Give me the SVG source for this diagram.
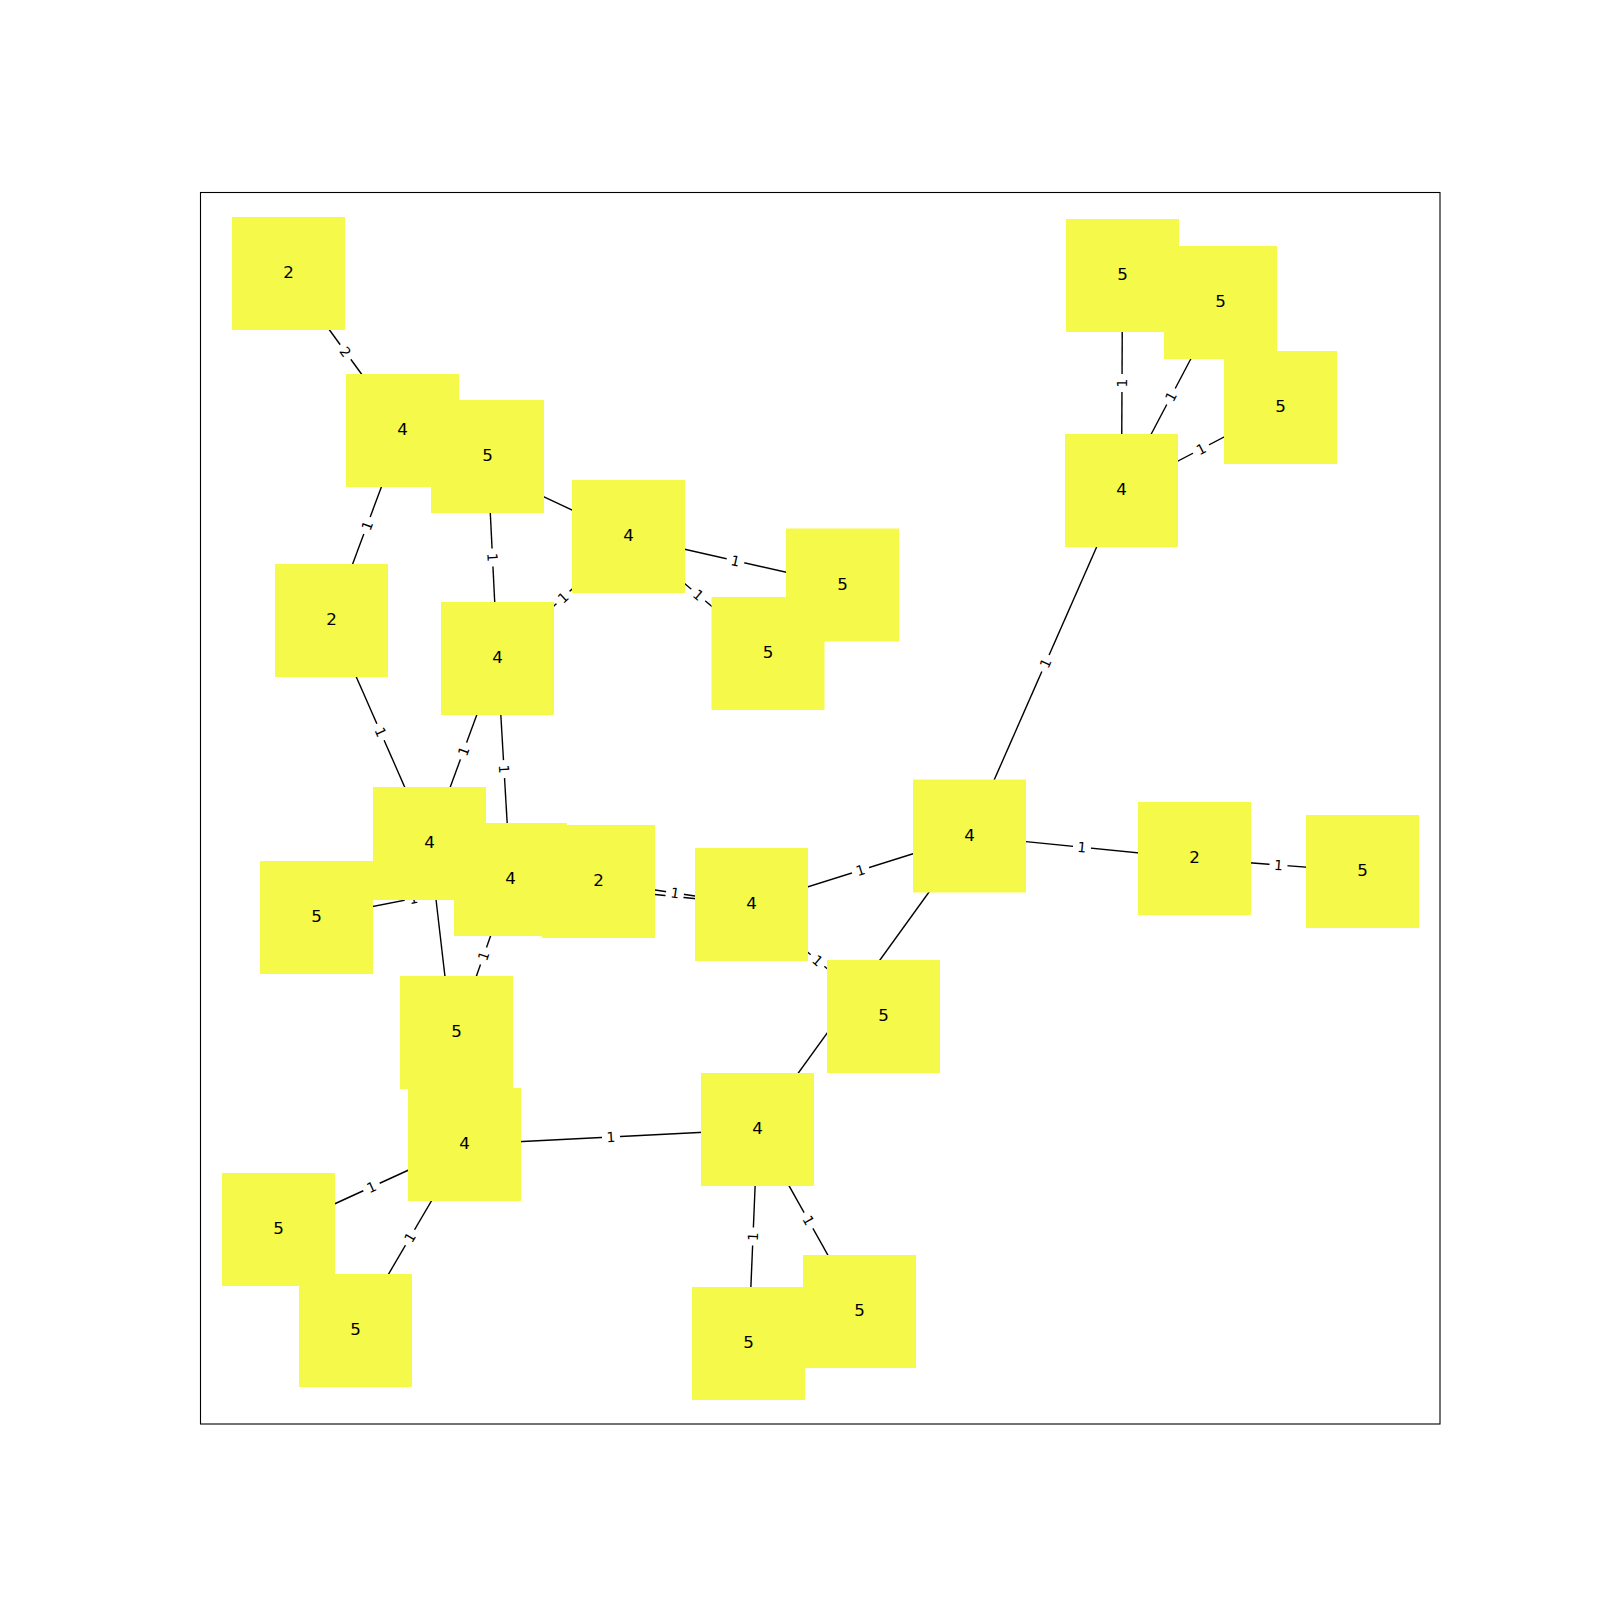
<svg xmlns="http://www.w3.org/2000/svg" width="1600" height="1600" viewBox="0 0 1600 1600">
<style>
.bg{fill:#ffffff}
.frame{fill:none;stroke:#000;stroke-width:1.1}
.edges line{stroke:#000;stroke-width:1.4}
.el rect{fill:#fff;stroke:none}
.el text{font-family:"DejaVu Sans",sans-serif;font-size:13.9px;text-anchor:middle;dominant-baseline:central;fill:#000}
.node rect{fill:#f4f94a}
.node text{font-family:"DejaVu Sans",sans-serif;font-size:16.7px;text-anchor:middle;dominant-baseline:central;fill:#000}
</style>
<rect class="bg" x="0" y="0" width="1600" height="1600"/>
<rect class="frame" x="200.5" y="192.5" width="1239.5" height="1231.5"/>
<g id="connectors">
<g class="edges">
<line x1="288.5" y1="273.5" x2="402.5" y2="430.5"/>
<line x1="402.5" y1="430.5" x2="331.5" y2="620.5"/>
<line x1="402.5" y1="430.5" x2="628.5" y2="536.5"/>
<line x1="487.5" y1="456.5" x2="497.5" y2="658.5"/>
<line x1="628.5" y1="536.5" x2="497.5" y2="658.5"/>
<line x1="628.5" y1="536.5" x2="842.5" y2="585"/>
<line x1="628.5" y1="536.5" x2="768" y2="653.5"/>
<line x1="331.5" y1="620.5" x2="429.5" y2="843.5"/>
<line x1="497.5" y1="658.5" x2="429.5" y2="843.5"/>
<line x1="497.5" y1="658.5" x2="510.5" y2="879.5"/>
<line x1="316.5" y1="917.5" x2="510.5" y2="879.5"/>
<line x1="429.5" y1="843.5" x2="464.5" y2="1144.5"/>
<line x1="510.5" y1="879.5" x2="456.5" y2="1032.5"/>
<line x1="510.5" y1="879.5" x2="751.5" y2="904.5"/>
<line x1="598.5" y1="881.5" x2="751.5" y2="904.5"/>
<line x1="751.5" y1="904.5" x2="969.5" y2="836"/>
<line x1="751.5" y1="904.5" x2="883.5" y2="1016.5"/>
<line x1="969.5" y1="836" x2="757.5" y2="1129.5"/>
<line x1="969.5" y1="836" x2="1121.5" y2="490.5"/>
<line x1="969.5" y1="836" x2="1194.5" y2="858.5"/>
<line x1="1194.5" y1="858.5" x2="1362.5" y2="871.5"/>
<line x1="1121.5" y1="490.5" x2="1122.5" y2="275.5"/>
<line x1="1121.5" y1="490.5" x2="1220.5" y2="302.5"/>
<line x1="1121.5" y1="490.5" x2="1280.5" y2="407.5"/>
<line x1="757.5" y1="1129.5" x2="464.5" y2="1144.5"/>
<line x1="464.5" y1="1144.5" x2="278.5" y2="1229.5"/>
<line x1="464.5" y1="1144.5" x2="355.5" y2="1330.5"/>
<line x1="757.5" y1="1129.5" x2="748.5" y2="1343.5"/>
<line x1="757.5" y1="1129.5" x2="859.5" y2="1311.5"/>
</g>
<g class="el">
<g transform="translate(345.5,352) rotate(54)"><rect x="-9" y="-11" width="18" height="22" rx="4"/><text>2</text></g>
<g transform="translate(367,525.5) rotate(-69.5)"><rect x="-9" y="-11" width="18" height="22" rx="4"/><text>1</text></g>
<g transform="translate(515.5,483.5) rotate(25.1)"><rect x="-9" y="-11" width="18" height="22" rx="4"/><text>1</text></g>
<g transform="translate(492.5,557.5) rotate(87.2)"><rect x="-9" y="-11" width="18" height="22" rx="4"/><text>1</text></g>
<g transform="translate(563,597.5) rotate(-43)"><rect x="-9" y="-11" width="18" height="22" rx="4"/><text>1</text></g>
<g transform="translate(735.5,560.75) rotate(12.8)"><rect x="-9" y="-11" width="18" height="22" rx="4"/><text>1</text></g>
<g transform="translate(698.25,595) rotate(40)"><rect x="-9" y="-11" width="18" height="22" rx="4"/><text>1</text></g>
<g transform="translate(380.5,732) rotate(66.3)"><rect x="-9" y="-11" width="18" height="22" rx="4"/><text>1</text></g>
<g transform="translate(463.5,751) rotate(-69.8)"><rect x="-9" y="-11" width="18" height="22" rx="4"/><text>1</text></g>
<g transform="translate(504,769) rotate(86.6)"><rect x="-9" y="-11" width="18" height="22" rx="4"/><text>1</text></g>
<g transform="translate(413.5,898.5) rotate(-11.1)"><rect x="-9" y="-11" width="18" height="22" rx="4"/><text>1</text></g>
<g transform="translate(447,994) rotate(83.4)"><rect x="-9" y="-11" width="18" height="22" rx="4"/><text>1</text></g>
<g transform="translate(483.5,956) rotate(-70.6)"><rect x="-9" y="-11" width="18" height="22" rx="4"/><text>1</text></g>
<g transform="translate(631,892) rotate(5.9)"><rect x="-9" y="-11" width="18" height="22" rx="4"/><text>1</text></g>
<g transform="translate(675,893) rotate(8.5)"><rect x="-9" y="-11" width="18" height="22" rx="4"/><text>1</text></g>
<g transform="translate(860.5,870.25) rotate(-17.4)"><rect x="-9" y="-11" width="18" height="22" rx="4"/><text>1</text></g>
<g transform="translate(817.5,960.5) rotate(40.3)"><rect x="-9" y="-11" width="18" height="22" rx="4"/><text>1</text></g>
<g transform="translate(863.5,982.75) rotate(-54.2)"><rect x="-9" y="-11" width="18" height="22" rx="4"/><text>1</text></g>
<g transform="translate(1045.5,663.25) rotate(-66.3)"><rect x="-9" y="-11" width="18" height="22" rx="4"/><text>1</text></g>
<g transform="translate(1082,847.25) rotate(5.7)"><rect x="-9" y="-11" width="18" height="22" rx="4"/><text>1</text></g>
<g transform="translate(1278.5,865) rotate(4.4)"><rect x="-9" y="-11" width="18" height="22" rx="4"/><text>1</text></g>
<g transform="translate(1122,383) rotate(-89.7)"><rect x="-9" y="-11" width="18" height="22" rx="4"/><text>1</text></g>
<g transform="translate(1171,396.5) rotate(-62.2)"><rect x="-9" y="-11" width="18" height="22" rx="4"/><text>1</text></g>
<g transform="translate(1201,449) rotate(-27.6)"><rect x="-9" y="-11" width="18" height="22" rx="4"/><text>1</text></g>
<g transform="translate(611,1137) rotate(-2.9)"><rect x="-9" y="-11" width="18" height="22" rx="4"/><text>1</text></g>
<g transform="translate(371.5,1187) rotate(-24.6)"><rect x="-9" y="-11" width="18" height="22" rx="4"/><text>1</text></g>
<g transform="translate(410,1237.5) rotate(-59.6)"><rect x="-9" y="-11" width="18" height="22" rx="4"/><text>1</text></g>
<g transform="translate(753,1236.5) rotate(-87.6)"><rect x="-9" y="-11" width="18" height="22" rx="4"/><text>1</text></g>
<g transform="translate(808.5,1220.5) rotate(60.7)"><rect x="-9" y="-11" width="18" height="22" rx="4"/><text>1</text></g>
</g>
</g>
<g id="nA" class="node"><rect x="232" y="217" width="113" height="113"/><text x="288.5" y="272">2</text></g>
<g id="nB" class="node"><rect x="346" y="374" width="113" height="113"/><text x="402.5" y="429">4</text></g>
<g id="nC" class="node"><rect x="431" y="400" width="113" height="113"/><text x="487.5" y="455">5</text></g>
<g id="nD" class="node"><rect x="572" y="480" width="113" height="113"/><text x="628.5" y="535">4</text></g>
<g id="nE" class="node"><rect x="275" y="564" width="113" height="113"/><text x="331.5" y="619">2</text></g>
<g id="nF" class="node"><rect x="441" y="602" width="113" height="113"/><text x="497.5" y="657">4</text></g>
<g id="nG" class="node"><rect x="786" y="528.5" width="113" height="113"/><text x="842.5" y="583.5">5</text></g>
<g id="nH" class="node"><rect x="711.5" y="597" width="113" height="113"/><text x="768" y="652">5</text></g>
<g id="nI" class="node"><rect x="1065" y="434" width="113" height="113"/><text x="1121.5" y="489">4</text></g>
<g id="nJ" class="node"><rect x="1066" y="219" width="113" height="113"/><text x="1122.5" y="274">5</text></g>
<g id="nK" class="node"><rect x="1164" y="246" width="113" height="113"/><text x="1220.5" y="301">5</text></g>
<g id="nL" class="node"><rect x="1224" y="351" width="113" height="113"/><text x="1280.5" y="406">5</text></g>
<g id="nM" class="node"><rect x="913" y="779.5" width="113" height="113"/><text x="969.5" y="834.5">4</text></g>
<g id="nN" class="node"><rect x="1138" y="802" width="113" height="113"/><text x="1194.5" y="857">2</text></g>
<g id="nO" class="node"><rect x="1306" y="815" width="113" height="113"/><text x="1362.5" y="870">5</text></g>
<g id="nP" class="node"><rect x="695" y="848" width="113" height="113"/><text x="751.5" y="903">4</text></g>
<g id="nQ" class="node"><rect x="827" y="960" width="113" height="113"/><text x="883.5" y="1015">5</text></g>
<g id="nR" class="node"><rect x="701" y="1073" width="113" height="113"/><text x="757.5" y="1128">4</text></g>
<g id="nS" class="node"><rect x="803" y="1255" width="113" height="113"/><text x="859.5" y="1310">5</text></g>
<g id="nT" class="node"><rect x="692" y="1287" width="113" height="113"/><text x="748.5" y="1342">5</text></g>
<g id="nU" class="node"><rect x="408" y="1088" width="113" height="113"/><text x="464.5" y="1143">4</text></g>
<g id="nV" class="node"><rect x="222" y="1173" width="113" height="113"/><text x="278.5" y="1228">5</text></g>
<g id="nW" class="node"><rect x="299" y="1274" width="113" height="113"/><text x="355.5" y="1329">5</text></g>
<g id="nX" class="node"><rect x="373" y="787" width="113" height="113"/><text x="429.5" y="842">4</text></g>
<g id="nAA" class="node"><rect x="260" y="861" width="113" height="113"/><text x="316.5" y="916">5</text></g>
<g id="nAB" class="node"><rect x="400" y="976" width="113" height="113"/><text x="456.5" y="1031">5</text></g>
<g id="nY" class="node"><rect x="454" y="823" width="113" height="113"/><text x="510.5" y="878">4</text></g>
<g id="nZ" class="node"><rect x="542" y="825" width="113" height="113"/><text x="598.5" y="880">2</text></g>
</svg>
